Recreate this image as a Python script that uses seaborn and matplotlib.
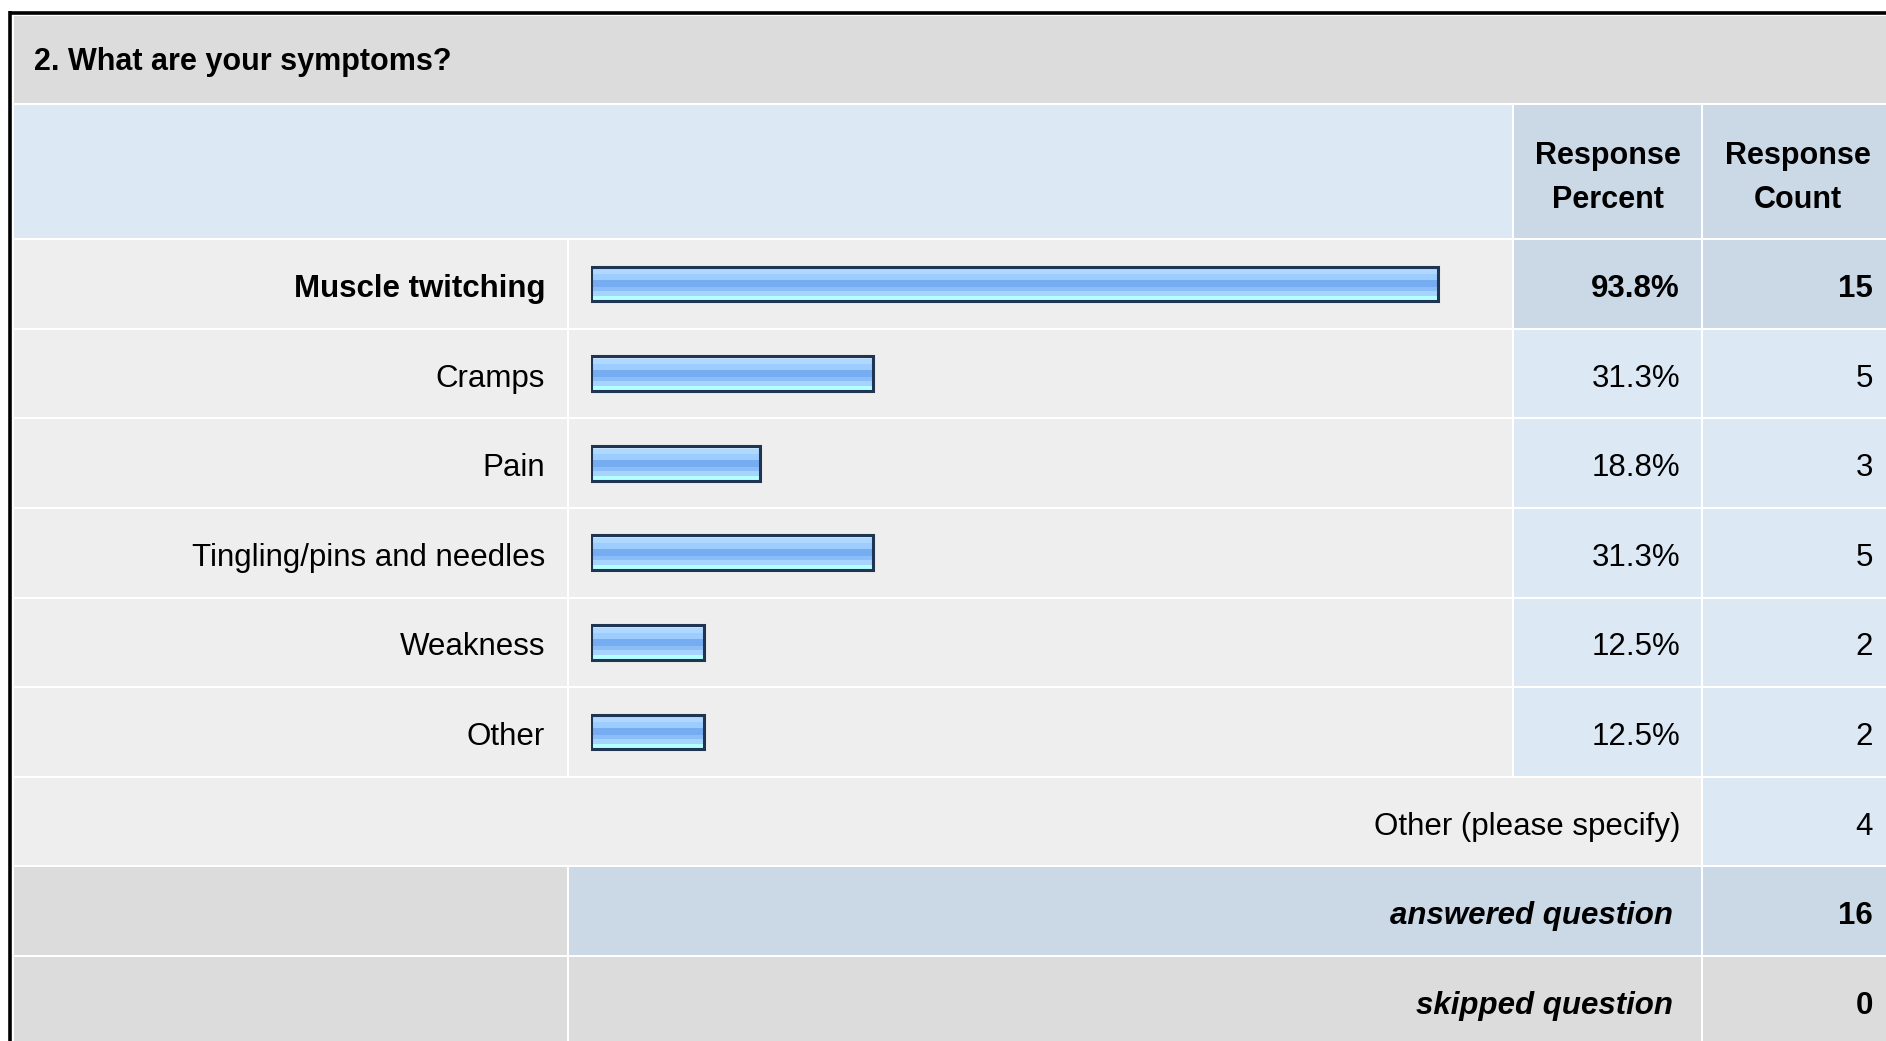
import numpy as np
import pandas as pd
import matplotlib
matplotlib.use("Agg")
import matplotlib.pyplot as plt
import matplotlib.colors as mc
from matplotlib.patches import Rectangle
import seaborn as sns

# survey data
title = "2. What are your symptoms?"
answers = ["Muscle twitching", "Cramps", "Pain", "Tingling/pins and needles",
           "Weakness", "Other"]
percents = [93.8, 31.3, 18.8, 31.3, 12.5, 12.5]
counts = [15, 5, 3, 5, 2, 2]
other_specify = 4
answered = 16
skipped = 0

sns.set_style("white")
plt.rcParams['font.family'] = ['Liberation Sans', 'DejaVu Sans']
plt.rcParams['text.color'] = 'black'

W, H = 1886, 1041
fig = plt.figure(figsize=(W / 100, H / 100), dpi=100)
fig.patch.set_facecolor("white")

bg = fig.add_axes([0, 0, 1, 1])
bg.set_xlim(0, W)
bg.set_ylim(H, 0)
bg.axis("off")

GRAY = "#DCDCDC"
ROW = "#EEEEEE"
LBLUE = "#DDE8F5"
DBLUE = "#CBD8E6"

def cell(x0, x1, y0, y1, color):
    bg.add_patch(Rectangle((x0 + 1, y0 + 1), x1 - x0 - 2, y1 - y0 - 2,
                           facecolor=color, edgecolor="none", zorder=1))

def txt(x, y, s, ha="right", **kw):
    bg.text(x, y, s, ha=ha, va="center", color="black", zorder=3, **kw)

# column / row grid (pixels)
c0, c1, c2, c3, c4 = 13, 568, 1513, 1702, 1890
top, head_top, rows_top, rh = 15, 104, 239.2, 89.6
dy = 5  # visual centering of text in rows

cell(c0, c4, top, head_top, GRAY)
cell(c0, c2, head_top, rows_top, LBLUE)
cell(c2, c3, head_top, rows_top, DBLUE)
cell(c3, c4, head_top, rows_top, DBLUE)

fs = 22.5
imax = int(np.argmax(counts))
for i, (lab, p, n) in enumerate(zip(answers, percents, counts)):
    y0 = rows_top + i * rh
    yc = y0 + rh / 2 + dy
    val_col = DBLUE if i == imax else LBLUE
    cell(c0, c1, y0, y0 + rh, ROW)
    cell(c1, c2, y0, y0 + rh, ROW)
    cell(c2, c3, y0, y0 + rh, val_col)
    cell(c3, c4, y0, y0 + rh, val_col)
    w = "bold" if i == imax else "normal"
    txt(545, yc, lab, fontsize=fs, fontweight=w)
    txt(1680, yc, f"{p:.1f}%", fontsize=fs, fontweight=w)
    txt(1873, yc, str(n), fontsize=fs, fontweight=w)

n = len(answers)
y0 = rows_top + n * rh
cell(c0, c3, y0, y0 + rh, ROW)
cell(c3, c4, y0, y0 + rh, LBLUE)
txt(1680, y0 + rh / 2 + dy, "Other (please specify)", fontsize=fs)
txt(1873, y0 + rh / 2 + dy, str(other_specify), fontsize=fs)

y0 = rows_top + (n + 1) * rh
cell(c0, c1, y0, y0 + rh, GRAY)
cell(c1, c3, y0, y0 + rh, DBLUE)
cell(c3, c4, y0, y0 + rh, DBLUE)
txt(1673, y0 + rh / 2 + dy, "answered question", fontsize=fs,
    fontweight="bold", fontstyle="italic")
txt(1873, y0 + rh / 2 + dy, str(answered), fontsize=fs, fontweight="bold")

y0 = rows_top + (n + 2) * rh
cell(c0, c1, y0, y0 + rh, GRAY)
cell(c1, c3, y0, y0 + rh, GRAY)
cell(c3, c4, y0, y0 + rh, GRAY)
txt(1673, y0 + rh / 2 + dy, "skipped question", fontsize=fs,
    fontweight="bold", fontstyle="italic")
txt(1873, y0 + rh / 2 + dy, str(skipped), fontsize=fs, fontweight="bold")

# header texts
txt(34, 62, title, ha="left", fontsize=22, fontweight="bold")
for xc, l1, l2 in [(1608, "Response", "Percent"), (1798, "Response", "Count")]:
    txt(xc, 156, l1, ha="center", fontsize=22, fontweight="bold")
    txt(xc, 200, l2, ha="center", fontsize=22, fontweight="bold")

# outer black frame
bg.plot([10, 10], [11, H + 5], color="black", lw=2.6, solid_capstyle="butt", zorder=4)
bg.plot([8.5, W + 5], [12.5, 12.5], color="black", lw=2.6, solid_capstyle="butt", zorder=4)

# bars
x0_px, x100_px = 590.5, 1494.5
bax = fig.add_axes([x0_px / W, 1 - (rows_top + n * rh) / H,
                    (x100_px - x0_px) / W, n * rh / H])
df = pd.DataFrame({"answer": answers, "percent": percents})
sns.barplot(data=df, y="answer", x="percent", orient="h", ax=bax, color="none",
            edgecolor="#1F3552", linewidth=2.2, width=0.39, zorder=3)

stripes = [("#C9E6FF", 3), ("#AFD8FF", 4), ("#9DCCFF", 6), ("#76ACF2", 6),
           ("#8BBEF8", 4), ("#A6D4FF", 4), ("#B4FFFF", 5)]
grad = np.array([mc.to_rgb(c) for c, k in stripes for _ in range(k)])[:, None, :]
for patch in bax.patches:
    x, y, w, h = patch.get_x(), patch.get_y(), patch.get_width(), patch.get_height()
    patch.set_facecolor("none")
    patch.set_zorder(3)
    im = bax.imshow(grad, extent=[x, x + w, y + h, y], aspect="auto",
                    interpolation="nearest", zorder=2)
    im.set_clip_path(patch)

bax.set_xlim(0, 100)
bax.set_ylim(n - 0.5, -0.5)
bax.axis("off")
bax.patch.set_alpha(0)

fig.savefig("out.png", dpi=100)
